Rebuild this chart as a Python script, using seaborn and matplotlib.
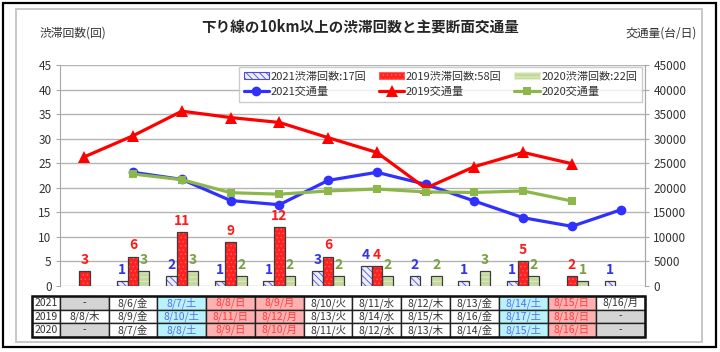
import numpy as np
import pandas as pd
import matplotlib
matplotlib.use("Agg")
import matplotlib.pyplot as plt
from matplotlib.patches import Patch, Rectangle
import seaborn as sns

# congestion counts per day column (None = no data, 0 = no congestion)
jam_2021 = [None, 1, 2, 1, 1, 3, 4, 2, 1, 1, 0, 1]
jam_2019 = [3, 6, 11, 9, 12, 6, 4, 0, 0, 5, 2, None]
jam_2020 = [None, 3, 3, 2, 2, 2, 2, 2, 3, 2, 1, None]

# traffic volume (veh/day)
traffic_2021 = [None, 23150, 21700, 17400, 16550, 21500, 23150, 20700, 17300, 13900, 12150, 15500]
traffic_2019 = [26300, 30600, 35600, 34300, 33300, 30200, 27200, 19900, 24300, 27200, 24900, None]
traffic_2020 = [None, 22800, 21650, 19000, 18700, 19350, 19750, 19150, 19050, 19350, 17300, None]

row_labels = ["2021", "2019", "2020"]
dates_2021 = ["-", "8/6/金", "8/7/土", "8/8/日", "8/9/月", "8/10/火", "8/11/水",
              "8/12/木", "8/13/金", "8/14/土", "8/15/日", "8/16/月"]
dates_2019 = ["8/8/木", "8/9/金", "8/10/土", "8/11/日", "8/12/月", "8/13/火", "8/14/水",
              "8/15/木", "8/16/金", "8/17/土", "8/18/日", "-"]
dates_2020 = ["-", "8/7/金", "8/8/土", "8/9/日", "8/10/月", "8/11/火", "8/12/水",
              "8/13/木", "8/14/金", "8/15/土", "8/16/日", "-"]
holidays = {"2021": ["8/9/月"], "2019": ["8/12/月"], "2020": ["8/10/月"]}

years = ["2021", "2019", "2020"]
jam = {"2021": jam_2021, "2019": jam_2019, "2020": jam_2020}
traffic = {"2021": traffic_2021, "2019": traffic_2019, "2020": traffic_2020}
dates = {"2021": dates_2021, "2019": dates_2019, "2020": dates_2020}

bar_style = {
    "2021": dict(face="#eeeeff", hatch="\\\\\\\\\\", hcol="#4a4ae0"),
    "2019": dict(face="#ff2020", hatch="....", hcol="#ff5c5c"),
    "2020": dict(face="#c3da9a", hatch="----", hcol="#e6f0d2"),
}
line_style = {
    "2021": dict(color="#3030ff", marker="o", ms=7),
    "2019": dict(color="#ff0000", marker="^", ms=8),
    "2020": dict(color="#8cb84a", marker="s", ms=6),
}
label_color = {"2021": "#3333ee", "2019": "#ff1a1a", "2020": "#77a040"}

sns.set_style("white")
plt.rcParams["font.family"] = ["Noto Sans CJK JP", "DejaVu Sans"]
plt.rcParams["hatch.linewidth"] = 0.6
plt.rcParams["axes.unicode_minus"] = False

rows = []
for y in years:
    for i, v in enumerate(jam[y]):
        if v:
            rows.append({"day": i, "year": y, "count": v})
bars_df = pd.DataFrame(rows)

fig = plt.figure(figsize=(7.2, 3.52), dpi=100)
W, H = 720, 352


def fx(px):
    return px / W


def fy(py):
    return 1 - py / H


# frames
fig.patches.append(Rectangle((fx(3), fy(347)), fx(713), 344 / H, transform=fig.transFigure,
                             fill=False, edgecolor="black", lw=1.6))
fig.patches.append(Rectangle((fx(16), fy(342)), fx(686), 333 / H, transform=fig.transFigure,
                             fill=False, edgecolor="#c8c8c8", lw=1.4))

ax = fig.add_axes([fx(60), fy(286), fx(585), 221 / H])
sns.barplot(data=bars_df, x="day", y="count", hue="year", hue_order=years,
            order=list(range(12)), width=0.66, errorbar=None, legend=False,
            palette=["#ffffff", "#ff2a2a", "#c3da9a"], ax=ax, zorder=2)

for cont, y in zip(ax.containers, years):
    st = bar_style[y]
    for p in cont.patches:
        p.set_facecolor(st["face"])
        p.set_edgecolor(st["hcol"])
        p.set_hatch(st["hatch"])
        p.set_linewidth(0)
        ax.add_patch(Rectangle(p.get_xy(), p.get_width(), p.get_height(), fill=False,
                               edgecolor="#3c3c3c", lw=0.9, zorder=3))
    ax.bar_label(cont, labels=[f"{v:g}" for v in cont.datavalues], padding=3,
                 color=label_color[y], fontweight="bold", fontsize=10)

ax.set_ylim(0, 45)
ax.set_yticks(np.arange(0, 46, 5))
ax.set_xlim(-0.5, 11.5)
ax.set_xticks([])
ax.set_xlabel("")
ax.set_ylabel("")
ax.grid(axis="y", color="#b4b4b4", lw=1, zorder=0)
ax.set_axisbelow(True)
for s in ["top", "bottom"]:
    ax.spines[s].set_visible(False)
for s in ["left", "right"]:
    ax.spines[s].set_color("#a8a8a8")
ax.tick_params(axis="y", length=3, color="#a8a8a8", labelcolor="#333333", labelsize=8.5, pad=3)

ax2 = ax.twinx()
line_handles = []
for y in years:
    st = line_style[y]
    ser = pd.Series(traffic[y], dtype=float)
    sns.lineplot(x=ser.index, y=ser.values, color=st["color"], marker=st["marker"],
                 markersize=st["ms"], markeredgewidth=0, lw=2.3, ax=ax2)
    line_handles.append(ax2.lines[-1])
ax2.set_ylim(0, 45000)
ax2.set_yticks(np.arange(0, 45001, 5000))
ax2.set_xlim(-0.5, 11.5)
for s in ["top", "bottom", "left"]:
    ax2.spines[s].set_visible(False)
ax2.spines["right"].set_color("#a8a8a8")
ax2.tick_params(axis="y", length=3, color="#a8a8a8", labelcolor="#333333", labelsize=8.5, pad=3)

# legend
bar_handles = [Patch(facecolor=bar_style[y]["face"], edgecolor=bar_style[y]["hcol"],
                     hatch=bar_style[y]["hatch"], lw=0.8) for y in years]
totals = {y: sum(v for v in jam[y] if v) for y in years}
handles, labels = [], []
for y, bh, lh in zip(years, bar_handles, line_handles):
    handles += [bh, lh]
    labels += [f"{y}渋滞回数:{totals[y]}回", f"{y}交通量"]
leg = ax2.legend(handles, labels, ncol=3, loc="upper right", bbox_to_anchor=(1.0, 1.005),
                 fontsize=8, frameon=True, fancybox=False, edgecolor="#c0c0c0",
                 borderpad=0.4, handlelength=2.3, handleheight=0.6, handletextpad=0.15,
                 columnspacing=1.1, labelspacing=0.45, labelcolor="#333333",
                 borderaxespad=0.3)
leg.get_frame().set_linewidth(1)
leg.set_zorder(10)

# titles
fig.text(0.5, fy(27), "下り線の10km以上の渋滞回数と主要断面交通量", ha="center", va="center",
         fontsize=10.5, fontweight="bold")
fig.text(fx(40), fy(33), "渋滞回数(回)", ha="left", va="center", fontsize=8.5, color="#333333")
fig.text(fx(697), fy(33), "交通量(台/日)", ha="right", va="center", fontsize=8.5, color="#333333")

# date table
cell_text, cell_colors, text_colors = [], [], []
for y in years:
    rt, rc, tc = [y], ["#ffffff"], ["#333333"]
    for d in dates[y]:
        rt.append(d)
        if d == "-":
            rc.append("#d4d4d4"); tc.append("#333333")
        elif d.endswith("土"):
            rc.append("#b8f2fc"); tc.append("#5a6cf0")
        elif d.endswith("日") or d in holidays[y]:
            rc.append("#ffb0b0"); tc.append("#ff3c3c")
        else:
            rc.append("#ffffff"); tc.append("#333333")
    cell_text.append(rt); cell_colors.append(rc); text_colors.append(tc)

x0 = (32 - 60) / 585
tw = (645 - 32) / 585
ty0 = (286 - 337) / 221
th = 41 / 221
col_w = [28] + [48.75] * 12
tab = ax.table(cellText=cell_text, cellColours=cell_colors, cellLoc="center",
               colWidths=[c / sum(col_w) for c in col_w], bbox=[x0, ty0, tw, th])
tab.auto_set_font_size(False)
tab.set_fontsize(7.5)
for (r, c), cell in tab.get_celld().items():
    cell.set_edgecolor("#222222")
    cell.set_linewidth(1)
    cell.PAD = 0.02
    cell.get_text().set_color(text_colors[r][c])
ax.add_patch(Rectangle((x0, ty0), tw, th, transform=ax.transAxes, fill=False,
                       edgecolor="#111111", lw=1.8, clip_on=False, zorder=5))

fig.savefig("out.png", dpi=100)
